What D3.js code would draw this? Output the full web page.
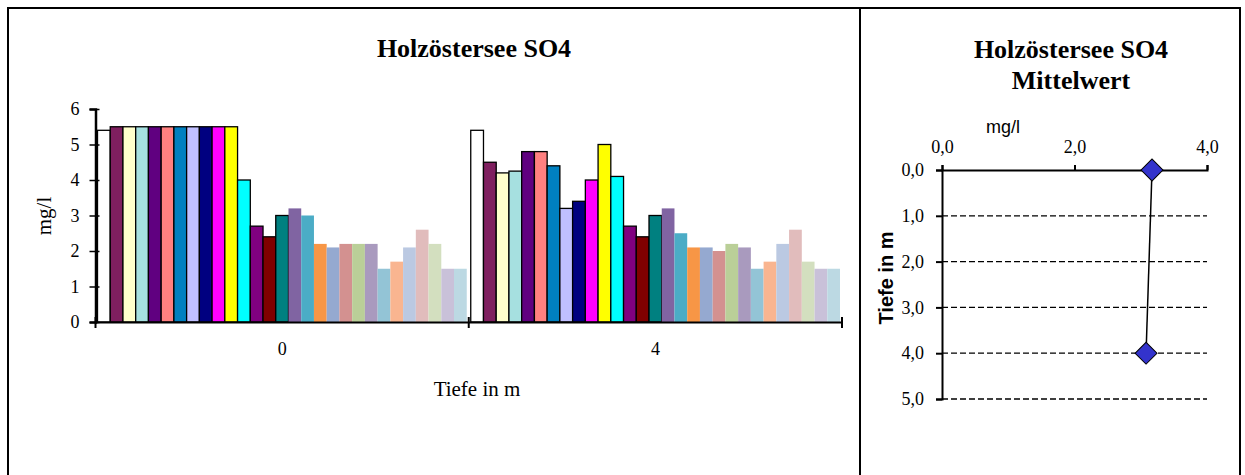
<!DOCTYPE html>
<html><head><meta charset="utf-8">
<script src="https://cdn.jsdelivr.net/npm/d3@7"></script>
<style>body{margin:0;background:#fff}svg{display:block}</style>
</head><body>
<svg id="c" width="1245" height="475"></svg>
<script>
// ---- data ----
const categories = ["0", "4"];
const seriesColors = ["#FFFFFF","#7F1F5F","#FFFFCC","#A6E0E0","#600080","#FF8080","#0080C0","#C0C0FF","#000080","#FF00FF","#FFFF00","#00FFFF","#800080","#800000","#008080",
  "#8064A2","#4BACC6","#F79646","#95A9D0","#D39190","#BACF98","#A99ABE","#93C4D6","#F9B590","#BBC9E2","#E1BCBC","#D3DFBF","#C9C1D9","#BCD9E3"];
const outlinedCount = 15;
const valuesDepth0 = [5.4,5.5,5.5,5.5,5.5,5.5,5.5,5.5,5.5,5.5,5.5,4.0,2.7,2.4,3.0,3.2,3.0,2.2,2.1,2.2,2.2,2.2,1.5,1.7,2.1,2.6,2.2,1.5,1.5];
const valuesDepth4 = [5.4,4.5,4.2,4.25,4.8,4.8,4.4,3.2,3.4,4.0,5.0,4.1,2.7,2.4,3.0,3.2,2.5,2.1,2.1,2.0,2.2,2.1,1.5,1.7,2.2,2.6,1.7,1.5,1.5];
const yTicksLeft = [0,1,2,3,4,5,6];
const meanDepths = [0, 4];
const meanValues = [3.17, 3.08];
const xTicksRight = [0, 2, 4];
const yTicksRight = [0, 1, 2, 3, 4, 5];
const fmt = d => d3.format(".1f")(d).replace(".", ",");

const svg = d3.select("#c");
const serif = "'Liberation Serif','Times New Roman',serif";
const sans = "'Liberation Sans',Arial,sans-serif";

// frame
svg.append("rect").attr("x",8).attr("y",8).attr("width",1232).attr("height",480)
  .attr("fill","none").attr("stroke","#000").attr("stroke-width",2);
svg.append("line").attr("x1",860).attr("x2",860).attr("y1",8).attr("y2",475)
  .attr("stroke","#000").attr("stroke-width",2);

// ---- left chart ----
const x0 = d3.scaleBand().domain(categories).range([95.5, 842]).padding(0);
const x1 = d3.scaleBand().domain(d3.range(seriesColors.length)).range([2, x0.bandwidth()-2]).padding(0);
const y = d3.scaleLinear().domain([0,6]).range([322,109]);
const dataByCat = [valuesDepth0, valuesDepth4];

svg.append("text").attr("x",474).attr("y",57).attr("text-anchor","middle")
  .style("font-family",serif).style("font-weight","bold").style("font-size","26px").text("Holzöstersee SO4");

const gBars = svg.append("g");
categories.forEach((c, ci) => {
  gBars.selectAll(null).data(dataByCat[ci]).enter().append("rect")
    .attr("x",(d,i)=>x0(c)+x1(i)).attr("width",x1.bandwidth())
    .attr("y",d=>y(d)).attr("height",d=>y(0)-y(d))
    .attr("fill",(d,i)=>seriesColors[i])
    .attr("stroke",(d,i)=>i<outlinedCount?"#000":"none")
    .attr("stroke-width",1.3);
});

const yAxis = svg.append("g").attr("transform","translate(95.5,0)")
  .call(d3.axisLeft(y).tickValues(yTicksLeft).tickSize(6).tickPadding(10).tickFormat(d3.format("d")));
yAxis.select(".domain").attr("stroke-width",2.5);
yAxis.selectAll(".tick line").attr("x1",4).attr("x2",-6).attr("stroke-width",1.5);
yAxis.selectAll(".tick text").style("font-family",serif).style("font-size","18px").attr("fill","#000");

const xAxis = svg.append("g").attr("transform","translate(0,322)")
  .call(d3.axisBottom(x0).tickSize(0).tickPadding(0));
xAxis.select(".domain").attr("stroke-width",2);
xAxis.selectAll(".tick text").attr("y",33).attr("dy",0).style("font-family",serif).style("font-size","18px").attr("fill","#000");
// category boundary ticks
const bounds = [x0.range()[0], x0("4"), x0.range()[1]];
svg.append("g").selectAll("line").data(bounds).enter().append("line")
  .attr("x1",d=>d).attr("x2",d=>d).attr("y1",317).attr("y2",328)
  .attr("stroke","#000").attr("stroke-width",2);

svg.append("text").attr("x",477).attr("y",396).attr("text-anchor","middle")
  .style("font-family",serif).style("font-size","21px").text("Tiefe in m");
svg.append("text").attr("transform","translate(51,216) rotate(-90)").attr("text-anchor","middle")
  .style("font-family",serif).style("font-size","21px").text("mg/l");

// ---- right chart ----
const xr = d3.scaleLinear().domain([0,4]).range([942,1207]);
const yr = d3.scaleLinear().domain([0,5]).range([170,399]);

svg.append("text").attr("x",1071).attr("y",58).attr("text-anchor","middle")
  .style("font-family",serif).style("font-weight","bold").style("font-size","26px").text("Holzöstersee SO4");
svg.append("text").attr("x",1071).attr("y",89).attr("text-anchor","middle")
  .style("font-family",serif).style("font-weight","bold").style("font-size","26px").text("Mittelwert");
svg.append("text").attr("x",1003).attr("y",133).attr("text-anchor","middle")
  .style("font-family",sans).style("font-size","18px").text("mg/l");

// gridlines
svg.append("g").selectAll("line").data(yTicksRight.filter(d=>d>0)).enter().append("line")
  .attr("x1",xr(0)).attr("x2",xr(4)).attr("y1",d=>yr(d)).attr("y2",d=>yr(d))
  .attr("stroke","#000").attr("stroke-width",1.3).attr("stroke-dasharray","6,3");

const xAxR = svg.append("g").attr("transform",`translate(0,${yr(0)})`)
  .call(d3.axisTop(xr).tickValues(xTicksRight).tickSize(5).tickPadding(12).tickFormat(fmt));
xAxR.select(".domain").attr("stroke-width",2);
xAxR.selectAll(".tick line").attr("stroke-width",2);
xAxR.selectAll(".tick text").style("font-family",serif).style("font-size","18px").attr("fill","#000");

const yAxR = svg.append("g").attr("transform",`translate(${xr(0)},0)`)
  .call(d3.axisLeft(yr).tickValues(yTicksRight).tickSize(6).tickPadding(12).tickFormat(fmt));
yAxR.select(".domain").attr("stroke-width",2);
yAxR.selectAll(".tick line").attr("stroke-width",2);
yAxR.selectAll(".tick text").style("font-family",serif).style("font-size","18px").attr("fill","#000");

svg.append("text").attr("transform","translate(893,278) rotate(-90)").attr("text-anchor","middle")
  .style("font-family",sans).style("font-weight","bold").style("font-size","20px").text("Tiefe in m");

const pts = meanDepths.map((d,i)=>[meanValues[i], d]);
svg.append("path").datum(pts)
  .attr("d", d3.line().x(d=>xr(d[0])).y(d=>yr(d[1])))
  .attr("fill","none").attr("stroke","#000").attr("stroke-width",1.5);
svg.append("g").selectAll("path").data(pts).enter().append("path")
  .attr("d", d3.symbol(d3.symbolSquare, 240))
  .attr("transform",d=>`translate(${xr(d[0])},${yr(d[1])}) rotate(45)`)
  .attr("fill","#3333CC").attr("stroke","#000").attr("stroke-width",1);
</script>
</body></html>
